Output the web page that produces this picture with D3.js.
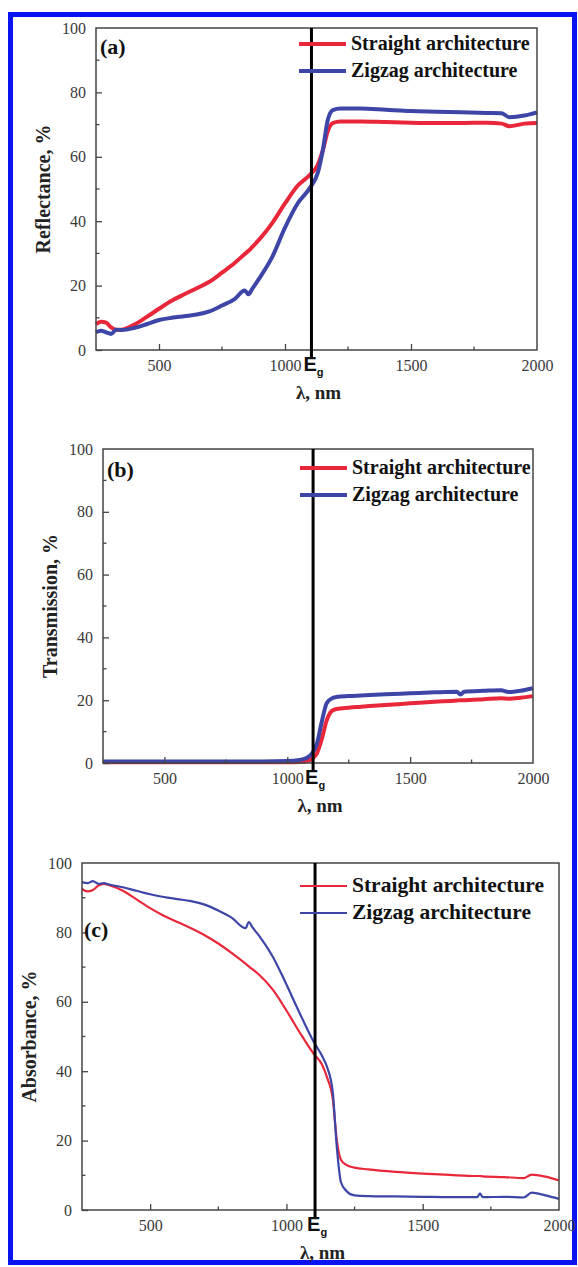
<!DOCTYPE html>
<html>
<head>
<meta charset="utf-8">
<script src="https://cdn.jsdelivr.net/npm/d3@7"></script>
<style>
  html, body { margin: 0; padding: 0; background: #fff; }
  svg { display: block; }
</style>
</head>
<body>
<svg id="fig" width="578" height="1267"></svg>
<script>
// Data (wavelength in nm, values in %)
const seriesNames = ['Straight architecture', 'Zigzag architecture'];
const xTicks = [500, 1000, 1500, 2000];
const xMinorTicks = [750, 1250, 1750];
const yTicks = [0, 20, 40, 60, 80, 100];
const yMinorTicks = [10, 30, 50, 70, 90];
const egWavelength = 1105;

// (a) reflectance
const reflX = [250, 270, 290, 310, 330, 350, 400, 450, 500, 550, 600, 650, 700, 750, 800, 840, 855, 870, 900, 950, 1000, 1050, 1100, 1130, 1150, 1170, 1190, 1220, 1300, 1400, 1500, 1600, 1700, 1800, 1860, 1890, 1950, 2000];
const reflStraight = [8, 8.8, 8.5, 7, 6.3, 6.3, 7.8, 10.2, 12.8, 15.3, 17.3, 19.2, 21.2, 24, 27, 29.8, 30.8, 32, 34.5, 39.5, 45.5, 51, 54.5, 57.5, 62, 68, 70.5, 71, 71, 70.8, 70.6, 70.5, 70.5, 70.6, 70.3, 69.5, 70.3, 70.5];
const reflZigzag = [5.5, 6, 5.5, 5, 6.3, 6.2, 6.8, 8, 9.3, 10, 10.5, 11, 12, 13.8, 15.8, 18.5, 17.3, 19, 22.5, 29, 38, 45.5, 50.5, 55, 62, 71.5, 74.5, 75, 75, 74.6, 74.2, 74, 73.8, 73.6, 73.5, 72.3, 72.8, 73.8];

// (b) transmission
const transX = [250, 500, 750, 900, 1000, 1050, 1080, 1100, 1120, 1140, 1160, 1180, 1200, 1250, 1300, 1400, 1500, 1600, 1690, 1705, 1720, 1800, 1870, 1900, 1950, 2000];
const transStraight = [0.2, 0.2, 0.2, 0.2, 0.2, 0.3, 0.6, 1.3, 3, 7.5, 13.5, 16.5, 17.2, 17.6, 17.9, 18.5, 19, 19.5, 19.9, 20, 20, 20.3, 20.6, 20.5, 20.8, 21.3];
const transZigzag = [0.5, 0.5, 0.5, 0.5, 0.6, 1, 1.7, 3, 6, 13, 19, 20.5, 21, 21.3, 21.5, 21.9, 22.2, 22.5, 22.7, 21.8, 22.7, 23, 23.2, 22.6, 23, 23.8];

// (c) absorbance
const absX = [250, 270, 290, 310, 330, 350, 400, 450, 500, 550, 600, 650, 700, 750, 800, 850, 862, 875, 900, 950, 1000, 1050, 1100, 1130, 1150, 1170, 1185, 1200, 1220, 1250, 1300, 1400, 1500, 1600, 1700, 1710, 1720, 1800, 1870, 1900, 1950, 2000];
const absStraight = [92.5, 91.8, 92.2, 93.5, 94, 93.6, 92, 89.5, 87, 84.8, 83, 81.2, 79.2, 76.8, 74, 71, 70.2, 69.4, 67.8, 63.5, 57.5, 51, 45, 42, 38, 32, 20, 14.5, 13, 12.2, 11.7, 11, 10.5, 10.1, 9.8, 9.8, 9.7, 9.5, 9.2, 10.2, 9.6, 8.5];
const absZigzag = [94.5, 94.2, 94.8, 94, 94.2, 93.8, 93, 92, 91, 90.2, 89.6, 89, 88, 86.3, 84.2, 81.2, 83, 81.5, 79, 73, 65, 56.5, 48.5, 44.5, 41, 34, 18, 8, 5.5, 4.2, 4, 3.9, 3.8, 3.7, 3.7, 4.8, 3.7, 3.8, 3.6, 5, 4.2, 3.2];

const colors = ['#e8283a', '#3d45a6'];
const serif = '"Liberation Serif", "Times New Roman", serif';

const svg = d3.select('#fig');

// blue outer frame
svg.append('rect')
  .attr('x', 10.5).attr('y', 14.5)
  .attr('width', 564).attr('height', 1248)
  .attr('fill', 'none')
  .attr('stroke', '#0a14f0')
  .attr('stroke-width', 5);

const panels = [
  { tag: '(a)', yTitle: 'Reflectance, %', xs: reflX, ys: [reflStraight, reflZigzag],
    left: 96, right: 537, top: 28, bottom: 350, lw: 4, legendY: 44, legendX: 299, legendSize: 20,
    tagX: 100, tagY: 54, yTitleX: 50 },
  { tag: '(b)', yTitle: 'Transmission, %', xs: transX, ys: [transStraight, transZigzag],
    left: 103, right: 533, top: 449, bottom: 763, lw: 4, legendY: 468, legendX: 300, legendSize: 20,
    tagX: 107, tagY: 477, yTitleX: 57 },
  { tag: '(c)', yTitle: 'Absorbance, %', xs: absX, ys: [absStraight, absZigzag],
    left: 82, right: 559, top: 863, bottom: 1210, lw: 2.2, legendY: 886, legendX: 300, legendSize: 21.5,
    tagX: 84, tagY: 937, yTitleX: 36 }
];

panels.forEach(p => {
  const x = d3.scaleLinear().domain([250, 2000]).range([p.left, p.right]);
  const y = d3.scaleLinear().domain([0, 100]).range([p.bottom, p.top]);
  const g = svg.append('g');

  // curves
  const line = d3.line()
    .x(d => x(d[0]))
    .y(d => y(d[1]))
    .curve(d3.curveMonotoneX);

  p.ys.forEach((vals, i) => {
    g.append('path')
      .datum(p.xs.map((w, j) => [w, vals[j]]))
      .attr('d', line)
      .attr('fill', 'none')
      .attr('stroke', colors[i])
      .attr('stroke-width', p.lw)
      .attr('stroke-linejoin', 'round');
  });

  // frame
  g.append('rect')
    .attr('x', p.left).attr('y', p.top)
    .attr('width', p.right - p.left).attr('height', p.bottom - p.top)
    .attr('fill', 'none')
    .attr('stroke', '#444')
    .attr('stroke-width', 1.5);

  // bottom axis, ticks pointing inward
  const xAxis = d3.axisBottom(x).tickValues(xTicks).tickSize(-6).tickPadding(10).tickFormat(d3.format('d'));
  const gx = g.append('g').attr('transform', `translate(0,${p.bottom})`).call(xAxis);
  gx.select('.domain').remove();
  gx.selectAll('line').attr('stroke', '#444').attr('stroke-width', 1.3);
  gx.selectAll('text').attr('font-family', serif).attr('font-size', 16).attr('fill', '#3a3a3a');
  gx.selectAll('.tick').filter(d => d === 2000).select('line').remove();
  g.selectAll('.xminor').data(xMinorTicks).join('line')
    .attr('x1', d => x(d)).attr('x2', d => x(d))
    .attr('y1', p.bottom).attr('y2', p.bottom - 3.5)
    .attr('stroke', '#444').attr('stroke-width', 1.3);

  // left axis
  const yAxis = d3.axisLeft(y).tickValues(yTicks).tickSize(-6).tickPadding(10);
  const gy = g.append('g').attr('transform', `translate(${p.left},0)`).call(yAxis);
  gy.select('.domain').remove();
  gy.selectAll('line').attr('stroke', '#444').attr('stroke-width', 1.3);
  gy.selectAll('text').attr('font-family', serif).attr('font-size', 16).attr('fill', '#3a3a3a');
  gy.selectAll('.tick').filter(d => d === 100).select('line').remove();
  g.selectAll('.yminor').data(yMinorTicks).join('line')
    .attr('x1', p.left).attr('x2', p.left + 3.5)
    .attr('y1', d => y(d)).attr('y2', d => y(d))
    .attr('stroke', '#444').attr('stroke-width', 1.3);

  // titles
  g.append('text')
    .attr('x', (p.left + p.right) / 2 + 2)
    .attr('y', p.bottom + 49)
    .attr('text-anchor', 'middle')
    .attr('font-family', serif).attr('font-weight', 'bold').attr('font-size', 19)
    .attr('fill', '#222')
    .text('λ, nm');

  g.append('text')
    .attr('transform', `translate(${p.yTitleX},${(p.top + p.bottom) / 2}) rotate(-90)`)
    .attr('text-anchor', 'middle')
    .attr('font-family', serif).attr('font-weight', 'bold').attr('font-size', 20)
    .attr('fill', '#222')
    .text(p.yTitle);

  // panel tag
  g.append('text')
    .attr('x', p.tagX).attr('y', p.tagY)
    .attr('font-family', serif).attr('font-weight', 'bold').attr('font-size', 22)
    .attr('fill', '#111')
    .text(p.tag);

  // band gap marker
  const ex = x(egWavelength);
  g.append('line')
    .attr('x1', ex).attr('x2', ex)
    .attr('y1', p.top).attr('y2', p.bottom + 8)
    .attr('stroke', '#000').attr('stroke-width', 3);
  const eg = g.append('text')
    .attr('x', ex - 8).attr('y', p.bottom + 21)
    .attr('font-family', '"Liberation Sans", Arial, sans-serif')
    .attr('font-weight', 'bold').attr('font-size', 20)
    .attr('fill', '#111');
  eg.append('tspan').text('E');
  eg.append('tspan').attr('font-size', 11).attr('dy', 5).text('g');

  // legend
  seriesNames.forEach((name, i) => {
    const ly = p.legendY + i * 27;
    g.append('line')
      .attr('x1', p.legendX).attr('x2', p.legendX + 47)
      .attr('y1', ly).attr('y2', ly)
      .attr('stroke', colors[i]).attr('stroke-width', p.lw);
    g.append('text')
      .attr('x', p.legendX + 52).attr('y', ly + 6)
      .attr('font-family', serif).attr('font-weight', 'bold').attr('font-size', p.legendSize)
      .attr('fill', '#111')
      .text(name);
  });
});
</script>
</body>
</html>
